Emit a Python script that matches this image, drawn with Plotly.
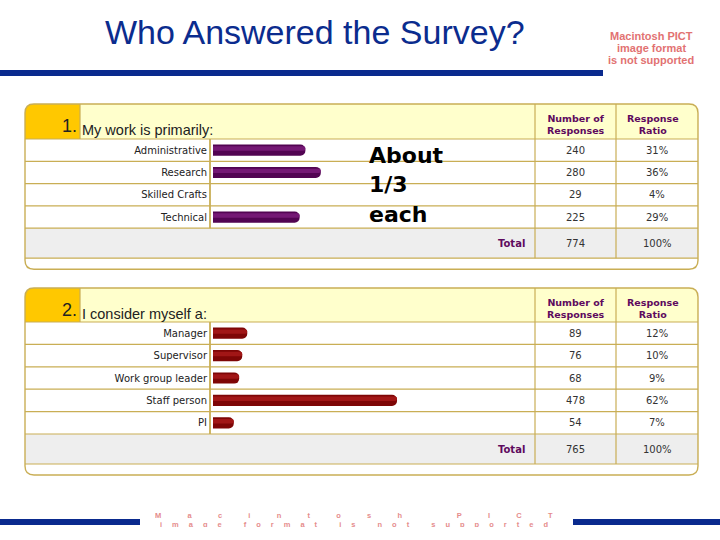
import plotly.graph_objects as go

W, H = 720, 540

# ---------------- data ----------------
q1_title = "My work is primarily:"
q1_categories = ["Administrative", "Research", "Skilled Crafts", "Technical"]
q1_counts = [240, 280, 29, 225]
q1_ratios = ["31%", "36%", "4%", "29%"]
q1_bar_visible = [1, 1, 0, 1]   # the Skilled Crafts bar is not drawn in the reference

q2_title = "I consider myself a:"
q2_categories = ["Manager", "Supervisor", "Work group leader", "Staff person", "PI"]
q2_counts = [89, 76, 68, 478, 54]
q2_ratios = ["12%", "10%", "9%", "62%", "7%"]

col_headers = ["Number of<br>Responses", "Response<br>Ratio"]

# ---------------- helpers ----------------
def px(x):
    return x / W

def py(y):
    return 1 - y / H

shapes = []
annotations = []

GOLD_LINE = "#C9AE55"
HEADER_FILL = "#FFFFCC"
GOLD_CELL = "#FFC800"
GRAY_ROW = "#EEEEEE"
PURPLE_TXT = "#5E0A5E"


def rect(x0, y0, x1, y1, fill, line_color=None, width=0):
    shapes.append(dict(type="rect", xref="paper", yref="paper", layer="below",
                       x0=px(x0), x1=px(x1), y0=py(y1), y1=py(y0),
                       fillcolor=fill,
                       line=dict(color=line_color or fill, width=width)))


def hline(x0, x1, y, color=GOLD_LINE, width=1.2):
    shapes.append(dict(type="line", xref="paper", yref="paper", layer="below",
                       x0=px(x0), x1=px(x1), y0=py(y), y1=py(y),
                       line=dict(color=color, width=width)))


def vline(x, y0, y1, color=GOLD_LINE, width=1.2):
    shapes.append(dict(type="line", xref="paper", yref="paper", layer="below",
                       x0=px(x), x1=px(x), y0=py(y0), y1=py(y1),
                       line=dict(color=color, width=width)))


def rounded_path(x0, y0, x1, y1, r, corners=(True, True, True, True)):
    # corners: top-left, top-right, bottom-right, bottom-left
    tl, tr, br, bl = [r if c else 0 for c in corners]
    def P(x, y):
        return f"{px(x):.5f},{py(y):.5f}"
    d = f"M {P(x0 + tl, y0)} L {P(x1 - tr, y0)} "
    d += f"Q {P(x1, y0)} {P(x1, y0 + tr)} " if tr else ""
    d += f"L {P(x1, y1 - br)} "
    d += f"Q {P(x1, y1)} {P(x1 - br, y1)} " if br else ""
    d += f"L {P(x0 + bl, y1)} "
    d += f"Q {P(x0, y1)} {P(x0, y1 - bl)} " if bl else ""
    d += f"L {P(x0, y0 + tl)} "
    d += f"Q {P(x0, y0)} {P(x0 + tl, y0)} " if tl else ""
    d += "Z"
    return d


def path(d, fill, line_color, width):
    shapes.append(dict(type="path", xref="paper", yref="paper", layer="below",
                       path=d, fillcolor=fill,
                       line=dict(color=line_color, width=width)))


def text(x, y, s, size, color="#333333", family="DejaVu Sans", xanchor="center",
         weight="normal"):
    annotations.append(dict(xref="paper", yref="paper", x=px(x), y=py(y), text=s,
                            showarrow=False, xanchor=xanchor, yanchor="middle",
                            font=dict(size=size, color=color, family=family,
                                      weight=weight)))


# ---------------- slide decoration ----------------
text(315, 32, "Who Answered the Survey?", 34, color="#0B2C8E",
     family="Liberation Sans")
rect(0, 70, 603, 76, "#0A2A8E")
text(651, 36, "Macintosh PICT", 11, color="#E27272", family="Liberation Sans",
     weight="bold")
text(651, 48, "image format", 11, color="#E27272", family="Liberation Sans",
     weight="bold")
text(651, 60, "is not supported", 11, color="#E27272", family="Liberation Sans",
     weight="bold")

# bottom bar with squashed PICT placeholder
rect(0, 519, 140, 525, "#0A2A8E")
rect(573, 519, 720, 525, "#0A2A8E")
SP1 = "\u2003\u2003\u2003\u2002"
SP2 = "\u2003\u2004"
line1 = SP1.join(list("Macintosh PICT"))
line2 = SP2.join(list("image format is not supported"))
annotations.append(dict(xref="paper", yref="paper", x=px(354), y=py(514.5),
                        text=line1, showarrow=False, xanchor="center",
                        yanchor="middle", height=6,
                        font=dict(size=7.5, color="#E58C8C",
                                  family="Liberation Sans", weight="bold")))
annotations.append(dict(xref="paper", yref="paper", x=px(354), y=py(523.5),
                        text=line2, showarrow=False, xanchor="center",
                        yanchor="middle", height=6,
                        font=dict(size=7.5, color="#E58C8C",
                                  family="Liberation Sans", weight="bold")))


# ---------------- tables ----------------
def table(top, header_bottom, row_h, n_rows, num, title, counts, ratios):
    left, right = 25, 698
    lab_col, c1, c2 = 210, 535, 616
    rows_bottom = header_bottom + row_h * n_rows
    total_bottom = rows_bottom + 30
    bottom = total_bottom + 11
    # white body
    path(rounded_path(left, top, right, bottom, 9), "white", "white", 0)
    # header
    path(rounded_path(left, top, right, header_bottom, 9, (True, True, False, False)),
         HEADER_FILL, HEADER_FILL, 0)
    path(rounded_path(left, top, 80, header_bottom, 9, (True, False, False, False)),
         GOLD_CELL, GOLD_CELL, 0)
    # total row
    rect(left, rows_bottom, right, total_bottom, GRAY_ROW)
    # grid lines
    hline(left, right, header_bottom)
    for i in range(1, n_rows + 1):
        hline(left, right, header_bottom + row_h * i)
    hline(left, right, total_bottom)
    vline(80, top, header_bottom)
    vline(lab_col, header_bottom, rows_bottom, width=1.8)
    vline(c1, top, total_bottom)
    vline(c2, top, total_bottom)
    # outer border
    path(rounded_path(left, top, right, bottom, 9), "rgba(0,0,0,0)", GOLD_LINE, 1.4)

    # header texts
    text(79, top + 22, num, 18, color="#222222", family="Liberation Sans",
         xanchor="right")
    text(80, top + 26, title, 14.5, color="#222222", family="Liberation Sans",
         xanchor="left")
    text((c1 + c2) / 2, top + 20, col_headers[0], 9.5, color=PURPLE_TXT,
         weight="bold")
    text((c2 + right) / 2 - 4, top + 20, col_headers[1], 9.5, color=PURPLE_TXT,
         weight="bold")
    # values
    for i, (c, r) in enumerate(zip(counts, ratios)):
        yc = header_bottom + row_h * (i + 0.5)
        text((c1 + c2) / 2, yc, str(c), 10)
        text((c2 + right) / 2, yc, r, 10)
    yt = (rows_bottom + total_bottom) / 2
    text(527, yt, "Total", 10, color=PURPLE_TXT, xanchor="right", weight="bold")
    text((c1 + c2) / 2, yt, str(sum(counts)), 10)
    text((c2 + right) / 2, yt, "100%", 10)
    return header_bottom, rows_bottom


q1_hb, q1_rb = table(104, 139, 22.3, len(q1_categories), "1.", q1_title,
                     q1_counts, q1_ratios)
q2_hb, q2_rb = table(288, 322, 22.4, len(q2_categories), "2.", q2_title,
                     q2_counts, q2_ratios)

# annotation box text
text(367, 156, "About", 22, color="black", xanchor="left", weight="bold")
text(367, 185, "1/3", 22, color="black", xanchor="left", weight="bold")
text(367, 214, "each", 22, color="black", xanchor="left", weight="bold")

# ---------------- bars ----------------
SCALE = 0.385      # pixels per response
bar_x0, bar_x1 = 213, 530
xmax = (bar_x1 - bar_x0) / SCALE

fig = go.Figure()
# main bars
fig.add_trace(go.Bar(
    x=q1_counts, y=q1_categories, orientation="h", width=0.5,
    marker=dict(color="#520452", cornerradius=6,
                opacity=q1_bar_visible, line=dict(width=0)),
    xaxis="x", yaxis="y", hoverinfo="skip", showlegend=False))
fig.add_trace(go.Bar(
    x=q2_counts, y=q2_categories, orientation="h", width=0.5,
    marker=dict(color="#7E0606", cornerradius=6, line=dict(width=0)),
    xaxis="x2", yaxis="y2", hoverinfo="skip", showlegend=False))
# glossy highlight stripe on the same bars
fig.add_trace(go.Bar(
    x=q1_counts, y=q1_categories, orientation="h", width=0.2, offset=-0.17,
    marker=dict(color="#741874", cornerradius=3,
                opacity=q1_bar_visible, line=dict(width=0)),
    xaxis="x", yaxis="y", hoverinfo="skip", showlegend=False))
fig.add_trace(go.Bar(
    x=q2_counts, y=q2_categories, orientation="h", width=0.2, offset=-0.17,
    marker=dict(color="#A11616", cornerradius=3, line=dict(width=0)),
    xaxis="x2", yaxis="y2", hoverinfo="skip", showlegend=False))

axis_common_x = dict(range=[0, xmax], visible=False, fixedrange=True)
tickfont = dict(size=10, color="#222222", family="DejaVu Sans")
fig.update_layout(
    width=W, height=H,
    margin=dict(l=0, r=0, t=0, b=0),
    paper_bgcolor="white", plot_bgcolor="rgba(0,0,0,0)",
    barmode="overlay",
    xaxis=dict(domain=[px(bar_x0), px(bar_x1)], anchor="y", **axis_common_x),
    yaxis=dict(domain=[py(q1_rb), py(q1_hb)], anchor="x",
               range=[len(q1_categories) - 0.5, -0.5], showgrid=False,
               zeroline=False, showline=False, ticks="", ticklabelstandoff=5,
               tickfont=tickfont, fixedrange=True),
    xaxis2=dict(domain=[px(bar_x0), px(bar_x1)], anchor="y2", **axis_common_x),
    yaxis2=dict(domain=[py(q2_rb), py(q2_hb)], anchor="x2",
                range=[len(q2_categories) - 0.5, -0.5], showgrid=False,
                zeroline=False, showline=False, ticks="", ticklabelstandoff=5,
                tickfont=tickfont, fixedrange=True),
    shapes=shapes,
    annotations=annotations,
)

fig.write_html("out.html",
               config={"displayModeBar": False},
               post_script="document.body.style.margin='0';"
                           "document.body.style.overflow='hidden';")
